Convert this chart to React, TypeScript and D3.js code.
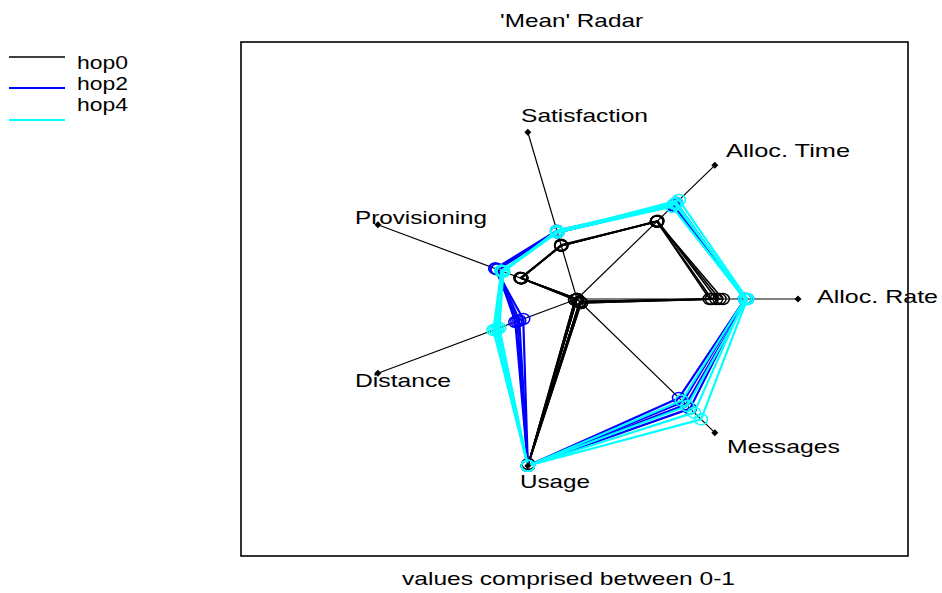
import React from "react";
import * as d3 from "d3";

const axisNames = ["Alloc. Rate", "Alloc. Time", "Satisfaction", "Provisioning", "Distance", "Usage", "Messages"];

const hop0Runs = [
  [0.6, 0.58, 0.32, 0.28, 0.0, 1.0, 0.02],
  [0.61, 0.58, 0.325, 0.28, 0.01, 1.0, 0.02],
  [0.63, 0.585, 0.32, 0.285, 0.0, 1.0, 0.03],
  [0.645, 0.58, 0.32, 0.28, 0.0, 0.99, 0.02],
  [0.66, 0.58, 0.32, 0.28, 0.01, 1.0, 0.03],
];
const hop2Runs = [
  [0.76, 0.7, 0.4, 0.41, 0.27, 1.0, 0.74],
  [0.76, 0.71, 0.4, 0.4, 0.29, 1.0, 0.77],
  [0.77, 0.7, 0.41, 0.41, 0.3, 1.0, 0.79],
  [0.76, 0.72, 0.4, 0.4, 0.31, 1.0, 0.82],
];
const hop4Runs = [
  [0.76, 0.69, 0.4, 0.37, 0.39, 1.0, 0.76],
  [0.77, 0.71, 0.4, 0.38, 0.41, 1.0, 0.8],
  [0.76, 0.72, 0.41, 0.37, 0.4, 1.0, 0.85],
  [0.77, 0.74, 0.4, 0.38, 0.42, 1.0, 0.9],
];
const seriesNames = ["hop0", "hop2", "hop4"];
const seriesColors = ["#000000", "#0000ff", "#00ffff"];
const seriesRuns = [hop0Runs, hop2Runs, hop4Runs];

const titleText = "'Mean' Radar";
const xLabelText = "values comprised between 0-1";

const CX = 577;
const CY = 299;
const rX = d3.scaleLinear().domain([0, 1]).range([0, 221]);
const rY = d3.scaleLinear().domain([0, 1]).range([0, 171]);
const angle = d3.scaleLinear().domain([0, axisNames.length]).range([0, 2 * Math.PI]);

function pt(i: number, v: number): [number, number] {
  const a = angle(i);
  return [CX + rX(v) * Math.cos(a), CY - rY(v) * Math.sin(a)];
}

const labelPos: { [k: string]: [number, number, number] } = {
  "Alloc. Rate": [817, 303, 121],
  "Alloc. Time": [726, 157, 124],
  "Satisfaction": [521, 122, 127],
  "Provisioning": [355, 224, 132],
  "Distance": [355, 387, 96],
  "Usage": [520, 488, 70],
  "Messages": [727, 453, 113],
};

const font = "'Liberation Sans', Arial, sans-serif";

export default function App() {
  const line = d3.line<[number, number]>().curve(d3.curveLinearClosed);
  const diamond = (x: number, y: number) => `M${x},${y - 3.5}L${x + 3.5},${y}L${x},${y + 3.5}L${x - 3.5},${y}Z`;
  return (
    <svg width={942} height={593} style={{ position: "absolute", left: 0, top: 0, background: "#fff" }}>
      <rect x={0} y={0} width={942} height={593} fill="#fff" />
      <rect x={241} y={42} width={667} height={514} fill="none" stroke="#000" strokeWidth={1.6} />
      <text x={500} y={27} fontFamily={font} fontSize={19} textLength={143} lengthAdjust="spacingAndGlyphs" fill="#000">{titleText}</text>
      <text x={402} y={585} fontFamily={font} fontSize={19} textLength={333} lengthAdjust="spacingAndGlyphs" fill="#000">{xLabelText}</text>
      {axisNames.map((n, i) => {
        const [x, y] = pt(i, 1);
        return <line key={n} x1={CX} y1={CY} x2={x} y2={y} stroke="#000" strokeWidth={1.2} />;
      })}
      {seriesRuns.map((runs, s) => (
        <g key={s}>
          {runs.map((vals, r) => {
            const pts = vals.map((v, i) => pt(i, v));
            return (
              <g key={r}>
                <path d={line(pts) || ""} fill="none" stroke={seriesColors[s]} strokeWidth={s === 0 ? 1.6 : 2.2} strokeLinejoin="round" />
                {pts.map((p, i) => (
                  <ellipse key={i} cx={p[0]} cy={p[1]} rx={6.5} ry={5.5} fill="none" stroke={seriesColors[s]} strokeWidth={1.5} />
                ))}
              </g>
            );
          })}
        </g>
      ))}
      {axisNames.map((n, i) => {
        const [x, y] = pt(i, 1);
        return <path key={n} d={diamond(x, y)} fill="#000" />;
      })}
      {axisNames.map((n) => {
        const [x, y, w] = labelPos[n];
        return (
          <text key={n} x={x} y={y} fontFamily={font} fontSize={19} textLength={w} lengthAdjust="spacingAndGlyphs" fill="#000">{n}</text>
        );
      })}
      {seriesNames.map((n, i) => {
        const ly = [57, 88, 120][i];
        return (
          <g key={n}>
            <line x1={9} y1={ly} x2={65} y2={ly} stroke={seriesColors[i]} strokeWidth={i === 0 ? 1.3 : 2} />
            <text x={77} y={69 + i * 21} fontFamily={font} fontSize={18} textLength={51} lengthAdjust="spacingAndGlyphs" fill="#000">{n}</text>
          </g>
        );
      })}
    </svg>
  );
}
